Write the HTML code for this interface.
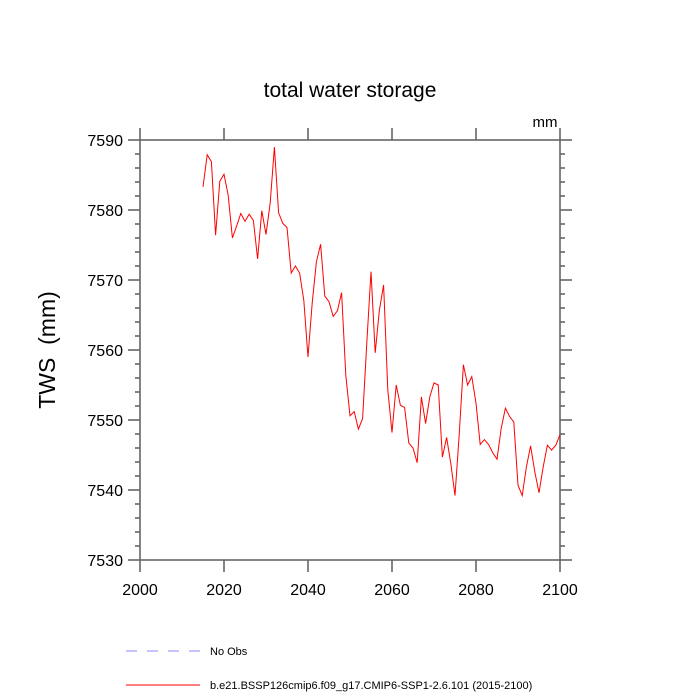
<!DOCTYPE html>
<html><head><meta charset="utf-8"><style>
body{margin:0;background:#fff;font-family:"Liberation Sans",sans-serif}
svg{display:block}
</style></head><body>
<svg id="chart" width="700" height="700">
<text x="350" y="97" font-size="21" text-anchor="middle">total water storage</text>
<text x="545" y="127" font-size="15" text-anchor="middle">mm</text>
<text transform="translate(55,350) rotate(-90)" font-size="23" text-anchor="middle">TWS&#160;&#160;(mm)</text>
<g id="axes"></g>
<polyline id="series" fill="none" stroke="#ff0000" stroke-width="1"/>
<g>
<line x1="126" y1="651" x2="200" y2="651" stroke="#8888ff" stroke-width="1" stroke-dasharray="11,10"/>
<text x="210" y="655" font-size="11">No Obs</text>
<line x1="126" y1="685" x2="200" y2="685" stroke="#ff0000" stroke-width="1"/>
<text x="210" y="689" font-size="11">b.e21.BSSP126cmip6.f09_g17.CMIP6-SSP1-2.6.101 (2015-2100)</text>
</g>
</svg>
<script>
const startYear = 2015;
const tws = [7583.3,7587.9,7586.9,7576.4,7584.1,7585.1,7582.1,7576.0,7577.7,7579.5,
7578.4,7579.4,7578.5,7573.0,7579.9,7576.5,7581.0,7589.0,7579.6,7578.1,
7577.5,7571.0,7572.0,7571.0,7567.1,7559.0,7566.7,7572.6,7575.1,7567.7,
7566.9,7564.8,7565.6,7568.2,7556.4,7550.6,7551.2,7548.7,7550.2,7561.0,
7571.2,7559.6,7565.7,7569.3,7554.3,7548.2,7555.0,7552.1,7551.8,7546.7,
7546.0,7543.9,7553.3,7549.5,7553.3,7555.3,7555.0,7544.7,7547.5,7543.8,
7539.2,7547.9,7557.9,7555.0,7556.2,7552.4,7546.5,7547.2,7546.5,7545.3,
7544.4,7548.8,7551.7,7550.5,7549.7,7540.7,7539.2,7543.3,7546.3,7542.6,
7539.6,7543.3,7546.4,7545.7,7546.4,7547.9];
const xTicks = [2000,2020,2040,2060,2080,2100];
const yTicks = [7530,7540,7550,7560,7570,7580,7590];
const xMin=2000,xMax=2100,yMin=7530,yMax=7590;
const L=140,R=560,T=140,B=560;
const sx=v=>L+(v-xMin)/(xMax-xMin)*(R-L);
const sy=v=>B-(v-yMin)/(yMax-yMin)*(B-T);
const NS='http://www.w3.org/2000/svg';
const g=document.getElementById('axes');
function ln(x1,y1,x2,y2,name){const e=document.createElementNS(NS,'line');
e.setAttribute('x1',x1);e.setAttribute('y1',y1);e.setAttribute('x2',x2);e.setAttribute('y2',y2);
e.setAttribute('stroke','#666');e.setAttribute('stroke-width','1.6');


g.appendChild(e);}
function tx(x,y,s,anchor,name){const e=document.createElementNS(NS,'text');
e.setAttribute('x',x);e.setAttribute('y',y);e.setAttribute('font-size','16');e.setAttribute('text-anchor',anchor);e.textContent=s;


g.appendChild(e);}
const fr=document.createElementNS(NS,'rect');
fr.setAttribute('x',L);fr.setAttribute('y',T);fr.setAttribute('width',R-L);fr.setAttribute('height',B-T);
fr.setAttribute('fill','none');fr.setAttribute('stroke','#666');fr.setAttribute('stroke-width','1.6');


g.appendChild(fr);
xTicks.forEach(v=>{const x=sx(v);ln(x,B,x,B+12,'x-tick');ln(x,T,x,T-12,'x-tick-top');tx(x,B+35,String(v),'middle','x-tick-label');});
yTicks.forEach(v=>{const y=sy(v);ln(L,y,L-12,y,'y-tick');ln(R,y,R+12,y,'y-tick-right');tx(L-17,y+6,String(v),'end','y-tick-label');});
for(let v=yMin;v<=yMax;v+=2){if((v-yMin)%10===0)continue;const y=sy(v);ln(L,y,L-5,y,'y-minor-tick');ln(R,y,R+5,y,'y-minor-tick-right');}
document.getElementById('series').setAttribute('points',tws.map((v,i)=>sx(startYear+i)+','+sy(v)).join(' '));
</script>
</body></html>
